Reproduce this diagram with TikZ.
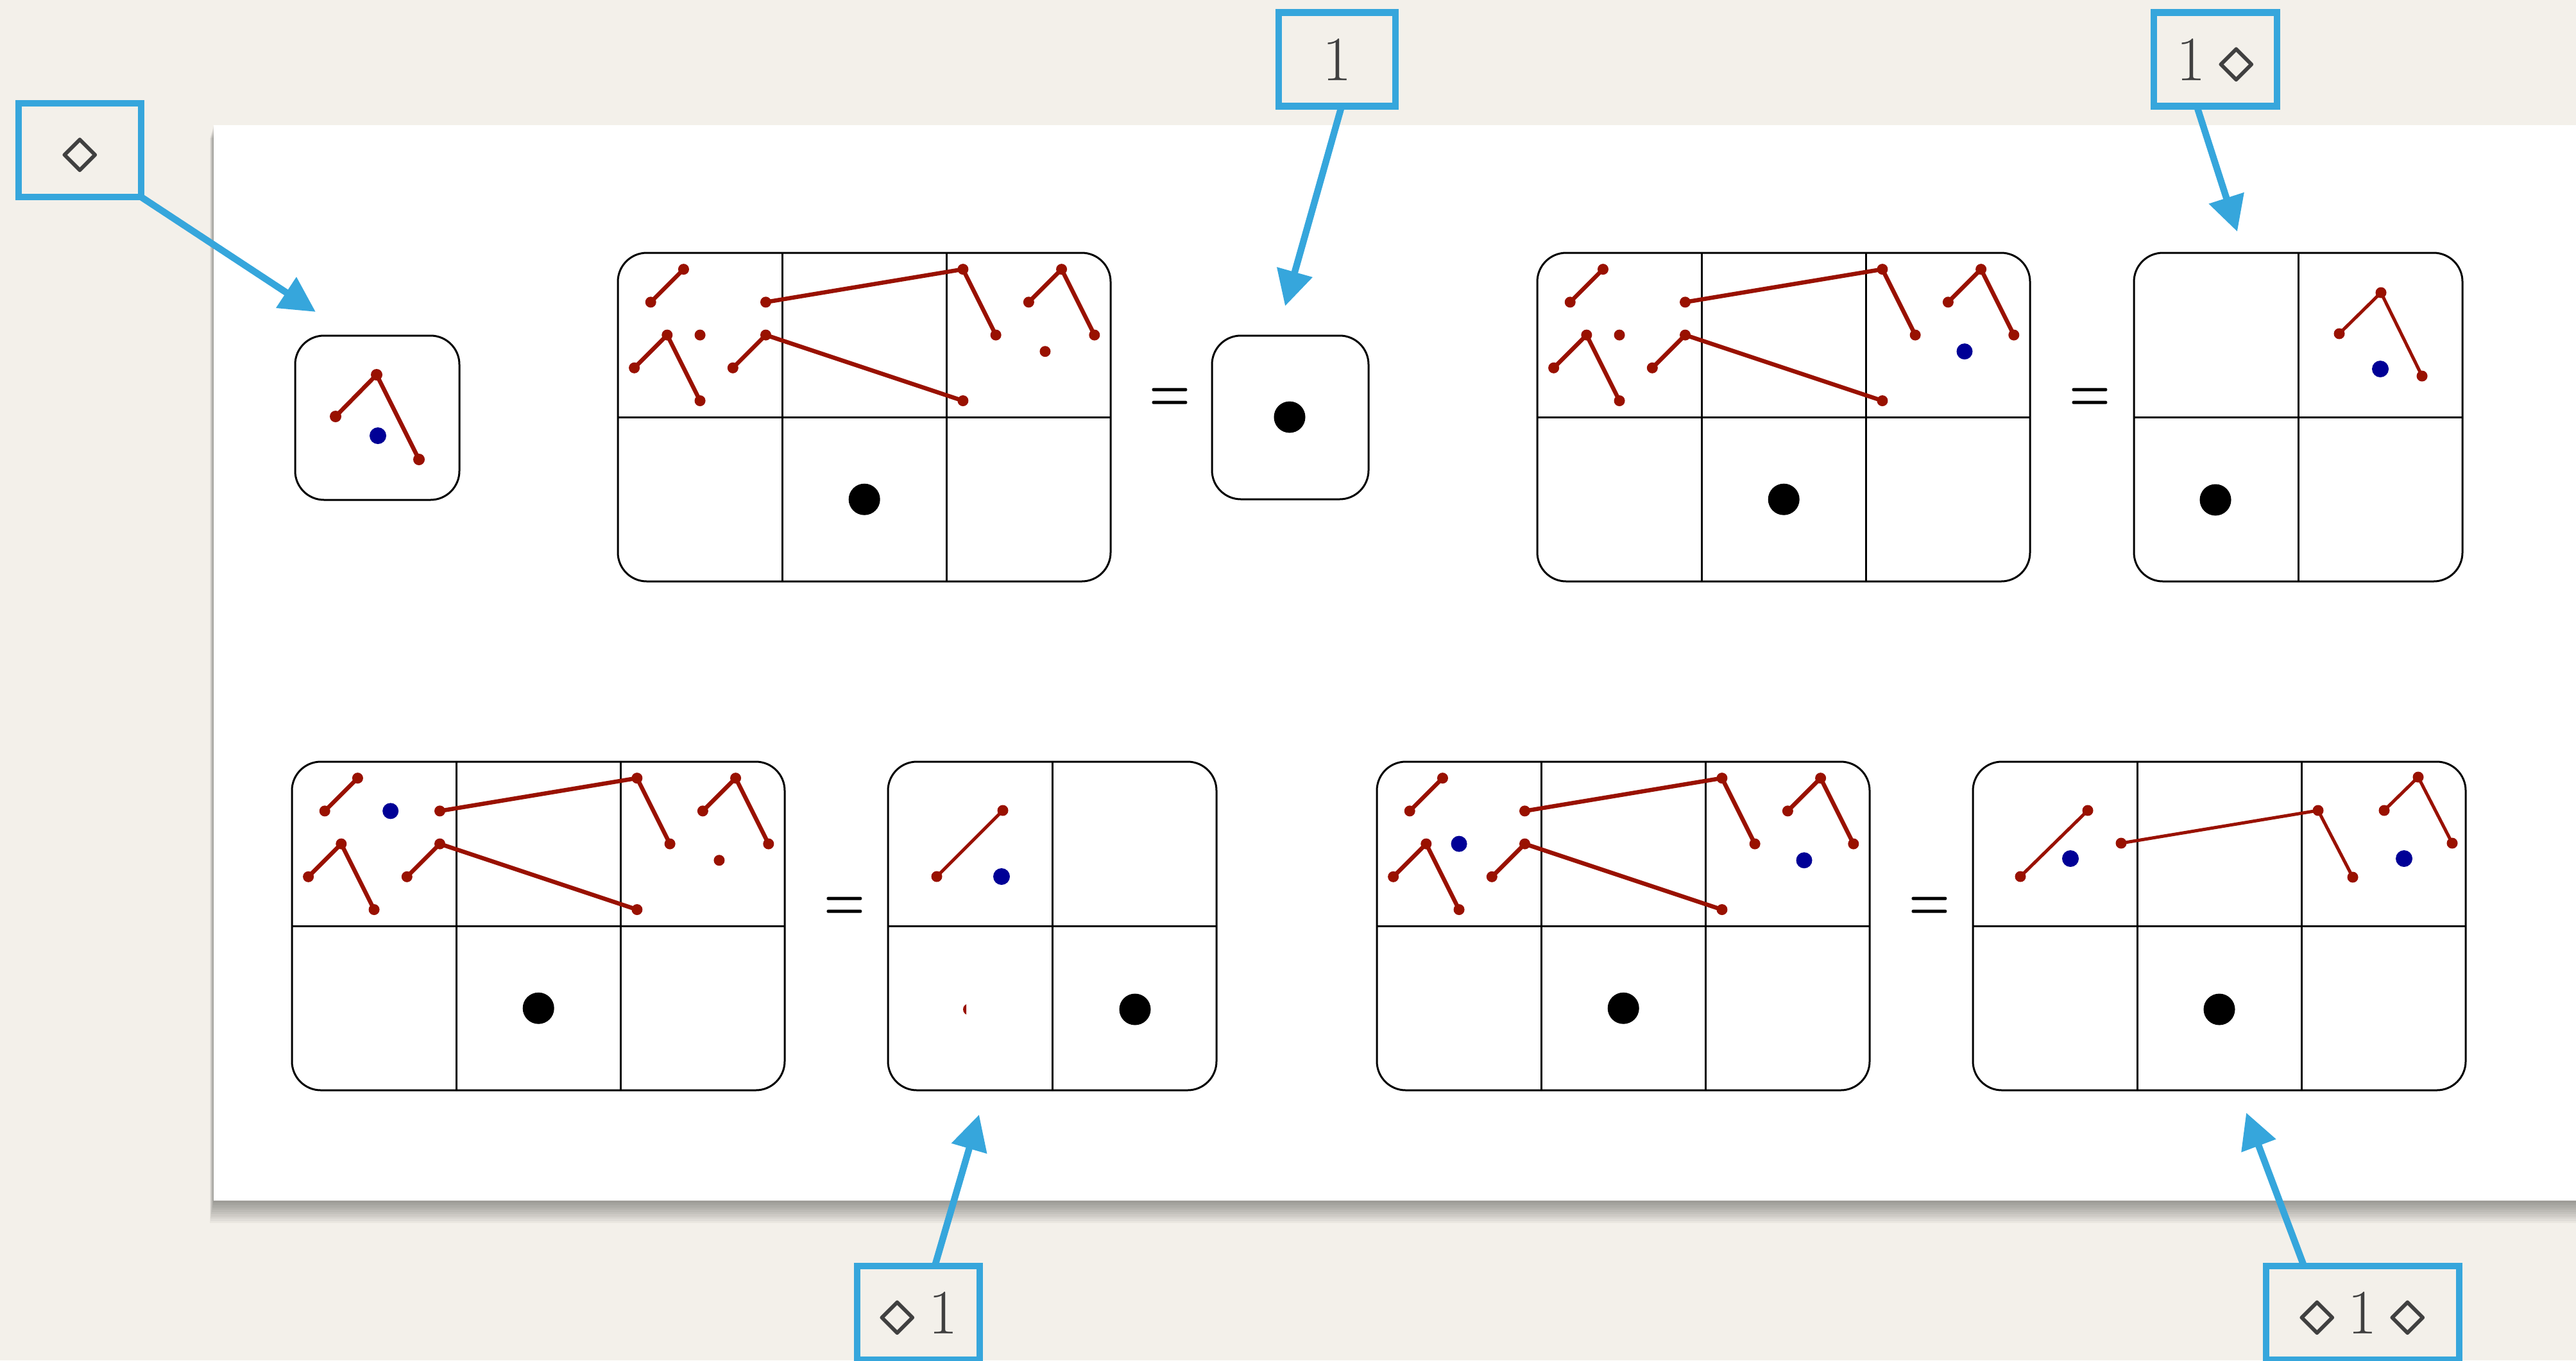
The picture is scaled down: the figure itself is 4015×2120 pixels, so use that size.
\RequirePackage{fix-cm}
\documentclass[tikz,border=0pt]{standalone}
\usepackage{amsmath}
\usepackage{graphicx}
\usetikzlibrary{arrows.meta,calc}
\definecolor{paper}{RGB}{243,240,234}
\definecolor{lblue}{RGB}{54,166,220}
\definecolor{dred}{RGB}{153,17,0}
\definecolor{dblue}{RGB}{0,0,150}
\definecolor{tgray}{RGB}{64,64,64}
\newcommand{\dmd}{$\boldsymbol{\diamond}$}
\newcommand{\beq}{\scalebox{0.8}[1]{\boldmath$=$}}
% big 3x2 frame with grid lines
\newcommand{\threegrid}[2]{%
  \draw[frame] (#1,#2) rectangle ({#1+768},{#2+512});
  \draw[gl] ({#1+256},#2) -- ({#1+256},{#2+512});
  \draw[gl] ({#1+512},#2) -- ({#1+512},{#2+512});
  \draw[gl] (#1,{#2+256}) -- ({#1+768},{#2+256});
}
\newcommand{\twogrid}[2]{%
  \draw[frame] (#1,#2) rectangle ({#1+512},{#2+512});
  \draw[gl] ({#1+256},#2) -- ({#1+256},{#2+512});
  \draw[gl] (#1,{#2+256}) -- ({#1+512},{#2+256});
}
% red graph of the big pictures, #3 = extra dots
\newcommand{\biggraph}[3]{%
  \begin{scope}[shift={(#1,#2)}, x=0.256cm, y=-0.256cm]
    \draw[rl] (2,3) -- (4,1);
    \draw[rl] (1,7) -- (3,5) -- (5,9);
    \draw[rl] (7,7) -- (9,5) -- (21,9);
    \draw[rl] (9,3) -- (21,1) -- (23,5);
    \draw[rl] (25,3) -- (27,1) -- (29,5);
    \foreach \p in {(2,3),(4,1),(1,7),(3,5),(5,9),(7,7),(9,5),(21,9),(9,3),(21,1),(23,5),(25,3),(27,1),(29,5)}
      \fill[dred] \p circle[radius=0.085cm];
    \fill[black] (15,15) circle[radius=0.245cm];
    #3
  \end{scope}
}
\begin{document}
\begin{tikzpicture}[x=0.01cm,y=-0.01cm,
  frame/.style={draw=black,line width=0.03cm,rounded corners=0.45cm},
  gl/.style={draw=black,line width=0.03cm},
  rl/.style={draw=dred,line width=0.065cm,line cap=round,line join=round},
  rlt/.style={draw=dred,line width=0.05cm,line cap=round,line join=round},
  rdot/.style={fill=dred},
  bdot/.style={fill=dblue},
  lab/.style={draw=lblue,line width=0.105cm,inner sep=0pt,outer sep=0pt,
    minimum height=1.46cm,text=tgray,font=\fontsize{28}{30}\selectfont},
  eqs/.style={inner sep=0pt,font=\fontsize{26}{28}\selectfont},
  larrow/.style={draw=lblue,line width=0.105cm,-{Triangle[length=0.55cm,width=0.55cm]}}
]
\useasboundingbox (0,0) rectangle (4015,2120);
\clip (0,0) rectangle (4015,2120);
\fill[paper] (0,0) rectangle (4015,2120);
% page with shadow
\foreach \i in {1,...,10}
  \fill[black,opacity=0.04] ({333-\i*0.6},{195+\i*2}) rectangle (4015,{1871+\i*3.5});
\fill[white] (333,195) rectangle (4015,1871);

% ---------- top row ----------
% diamond element
\draw[frame] (460,523) rectangle (716,779);
\draw[rl] (523,649) -- (587,584) -- (653,716);
\foreach \p in {(523,649),(587,584),(653,716)} \fill[rdot] \p circle[radius=0.09cm];
\fill[bdot] (589,679) circle[radius=0.13cm];

% grid 1
\threegrid{963}{394}
\biggraph{963}{394}{\fill[dred] (5,5) circle[radius=0.085cm]; \fill[dred] (26,6) circle[radius=0.085cm];}
\node[eqs] (eq1) at (1823,623) {\beq};
% unit
\draw[frame] (1889,523) rectangle (2133,778);
\fill[black] (2010,650) circle[radius=0.245cm];

% grid 2
\threegrid{2396}{394}
\biggraph{2396}{394}{\fill[dred] (5,5) circle[radius=0.085cm]; \fill[dblue] (26,6) circle[radius=0.125cm];}
\node[eqs] (eq2) at (3257,623) {\beq};
% result 1 diamond
\twogrid{3326}{394}
\draw[rlt] (3646,520) -- (3711,456) -- (3775,586);
\foreach \p in {(3646,520),(3711,456),(3775,586)} \fill[rdot] \p circle[radius=0.085cm];
\fill[bdot] (3710,575) circle[radius=0.13cm];
\fill[black] (3453,779) circle[radius=0.245cm];

% ---------- bottom row ----------
\threegrid{455}{1187}
\biggraph{455}{1187}{\fill[dblue] (6,3) circle[radius=0.125cm]; \fill[dred] (26,6) circle[radius=0.085cm];}
\node[eqs] (eq3) at (1316,1416) {\beq};
% result diamond 1
\twogrid{1384}{1187}
\draw[rlt] (1460,1366) -- (1563,1263);
\foreach \p in {(1460,1366),(1563,1263)} \fill[rdot] \p circle[radius=0.085cm];
\fill[bdot] (1561,1366) circle[radius=0.13cm];
\begin{scope}
  \clip (1498,1560) rectangle (1506,1586);
  \fill[dred] (1510,1573) circle[radius=0.09cm];
\end{scope}
\fill[black] (1769,1573) circle[radius=0.245cm];

\threegrid{2146}{1187}
\biggraph{2146}{1187}{\fill[dblue] (5,5) circle[radius=0.125cm]; \fill[dblue] (26,6) circle[radius=0.125cm];}
\node[eqs] (eq4) at (3007,1416) {\beq};
% result diamond 1 diamond
\threegrid{3075}{1187}
\draw[rlt] (3149,1366) -- (3254,1263);
\draw[rlt] (3306,1314) -- (3613,1263) -- (3667,1367);
\draw[rlt] (3716,1263) -- (3769,1211) -- (3822,1314);
\foreach \p in {(3149,1366),(3254,1263),(3306,1314),(3613,1263),(3667,1367),(3716,1263),(3769,1211),(3822,1314)}
  \fill[rdot] \p circle[radius=0.085cm];
\fill[bdot] (3227,1338) circle[radius=0.13cm];
\fill[bdot] (3747,1338) circle[radius=0.13cm];
\fill[black] (3459,1573) circle[radius=0.245cm];

% ---------- labels and arrows ----------
\node[lab,minimum width=1.91cm] (l0) at (124.5,234) {\vphantom{1}\dmd};
\node[lab,minimum width=1.82cm] (l1) at (2084,92.5) {1};
\node[lab,minimum width=1.92cm] (l2) at (3453,92.5) {1\hspace{0.2em}\dmd};
\node[lab,minimum width=1.91cm] (l3) at (1431.5,2046) {\dmd\hspace{0.2em}1};
\node[lab,minimum width=3.01cm] (l4) at (3682.5,2046) {\dmd\hspace{0.2em}1\hspace{0.2em}\dmd};

\coordinate (t0) at (492,486);
\coordinate (t1) at (2003,477);
\coordinate (t2) at (3487,361);
\coordinate (t3) at (1526,1737);
\coordinate (t4) at (3501,1734);
\draw[larrow] (l0.south east) -- (t0);
\draw[larrow] ([xshift=0.07cm]l1.south) -- (t1);
\draw[larrow] ([xshift=-0.29cm]l2.south) -- (t2);
\draw[larrow] ([xshift=0.255cm]l3.north) -- (t3);
\draw[larrow] ([xshift=-0.915cm]l4.north) -- (t4);
\end{tikzpicture}
\end{document}
